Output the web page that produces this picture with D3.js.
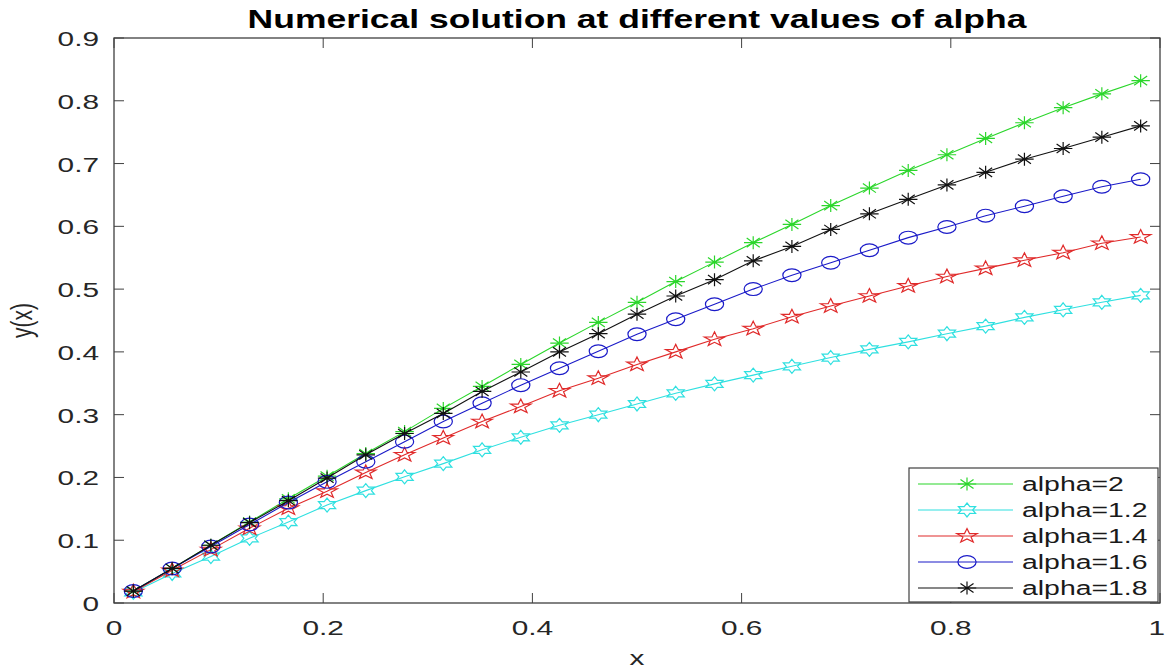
<!DOCTYPE html>
<html>
<head>
<meta charset="utf-8">
<script src="https://cdn.jsdelivr.net/npm/d3@7"></script>
<style>
  body { margin: 0; background: #fff; }
  svg { display: block; font-family: "Liberation Sans", Arial, Helvetica, sans-serif; }
</style>
</head>
<body>
<svg id="chart"></svg>
<script>
// grid points and solutions
var xs = [0.0185, 0.0556, 0.0926, 0.1296, 0.1667, 0.2037, 0.2407, 0.2778, 0.3148, 0.3519,
  0.3889, 0.4259, 0.4630, 0.5000, 0.5370, 0.5741, 0.6111, 0.6481, 0.6852, 0.7222,
  0.7593, 0.7963, 0.8333, 0.8704, 0.9074, 0.9444, 0.9815];

var y_a20 = [0.019, 0.055, 0.092, 0.129, 0.166, 0.202, 0.238, 0.273, 0.310, 0.345,
  0.380, 0.414, 0.447, 0.479, 0.512, 0.543, 0.574, 0.603, 0.633, 0.661,
  0.689, 0.714, 0.740, 0.765, 0.789, 0.811, 0.832];
var y_a12 = [0.017, 0.047, 0.074, 0.103, 0.129, 0.156, 0.179, 0.201, 0.222, 0.244,
  0.264, 0.283, 0.300, 0.317, 0.334, 0.349, 0.363, 0.377, 0.391, 0.404,
  0.416, 0.429, 0.441, 0.455, 0.467, 0.479, 0.490];
var y_a14 = [0.018, 0.052, 0.085, 0.119, 0.151, 0.178, 0.208, 0.236, 0.263, 0.289,
  0.313, 0.338, 0.358, 0.380, 0.400, 0.420, 0.437, 0.456, 0.473, 0.489,
  0.505, 0.520, 0.533, 0.546, 0.558, 0.573, 0.583];
var y_a16 = [0.019, 0.055, 0.090, 0.125, 0.160, 0.193, 0.225, 0.257, 0.289, 0.318,
  0.347, 0.374, 0.401, 0.428, 0.452, 0.476, 0.500, 0.522, 0.542, 0.562,
  0.582, 0.599, 0.617, 0.632, 0.648, 0.663, 0.675];
var y_a18 = [0.019, 0.055, 0.092, 0.128, 0.163, 0.199, 0.236, 0.270, 0.302, 0.337,
  0.368, 0.400, 0.429, 0.460, 0.489, 0.515, 0.545, 0.568, 0.595, 0.620,
  0.643, 0.666, 0.686, 0.707, 0.724, 0.742, 0.760];

var seriesNames = ["alpha=2", "alpha=1.2", "alpha=1.4", "alpha=1.6", "alpha=1.8"];
var xTicks = [0, 0.2, 0.4, 0.6, 0.8, 1];
var yTicks = [0, 0.1, 0.2, 0.3, 0.4, 0.5, 0.6, 0.7, 0.8, 0.9];

var series = [
  { name: seriesNames[0], y: y_a20, color: "#2bd62b", marker: "asterisk" },
  { name: seriesNames[1], y: y_a12, color: "#2fe0e0", marker: "hexagram" },
  { name: seriesNames[2], y: y_a14, color: "#e02a2a", marker: "pentagram" },
  { name: seriesNames[3], y: y_a16, color: "#1a1ac8", marker: "circle" },
  { name: seriesNames[4], y: y_a18, color: "#111111", marker: "asterisk" }
];

var W = 1166, H = 670;
// the figure is stretched horizontally, so text and markers get this x scale
var sx = 1.42;
var margin = { top: 38, right: 6, bottom: 67, left: 114 };

var svg = d3.select("#chart").attr("width", W).attr("height", H);

var x_scale = d3.scaleLinear().domain([0, 1]).range([margin.left, W - margin.right]);
var y_scale = d3.scaleLinear().domain([0, 0.9]).range([H - margin.bottom, margin.top]);

var x0 = x_scale.range()[0], x1 = x_scale.range()[1];
var y0 = y_scale.range()[0], y1 = y_scale.range()[1];
var axisColor = "#404040", tickLen = 10;

// marker shapes, local coords
function starPath(n, R, r) {
  var pts = [];
  for (var i = 0; i < 2 * n; i++) {
    var a = -Math.PI / 2 + i * Math.PI / n;
    var rad = i % 2 === 0 ? R : r;
    pts.push([rad * Math.cos(a), rad * Math.sin(a)]);
  }
  return "M" + pts.map(p => p[0].toFixed(2) + "," + p[1].toFixed(2)).join("L") + "Z";
}
function markerPath(type) {
  if (type === "asterisk") {
    var r = 6.5, d = r * 0.707;
    return `M${-r},0L${r},0M0,${-r}L0,${r}M${-d},${-d}L${d},${d}M${-d},${d}L${d},${-d}`;
  }
  if (type === "pentagram") return starPath(5, 7.5, 3.0);
  if (type === "hexagram") return starPath(6, 7, 4.0);
  return null;
}
function drawMarker(g, type, color, px, py) {
  var m = g.append("g").attr("transform", `translate(${px},${py}) scale(${sx},1)`);
  if (type === "circle") {
    m.append("circle").attr("r", 6.4).attr("fill", "none").attr("stroke", color)
      .attr("stroke-width", 1.2).attr("vector-effect", "non-scaling-stroke");
  } else {
    m.append("path").attr("d", markerPath(type)).attr("fill", "none").attr("stroke", color)
      .attr("stroke-width", 1.2).attr("vector-effect", "non-scaling-stroke");
  }
}
function addText(g, txt, px, py, opts) {
  return g.append("text")
    .attr("transform", `translate(${px},${py}) scale(${sx},1)` + (opts.rotate ? " rotate(-90)" : ""))
    .attr("text-anchor", opts.anchor || "middle")
    .style("font-size", opts.size + "px")
    .style("font-weight", opts.bold ? "bold" : "normal")
    .attr("fill", opts.color || "#262626")
    .text(txt);
}

// axes box with inner ticks on all four sides
var ax = svg.append("g").attr("class", "axes");
ax.append("rect").attr("x", x0).attr("y", y1).attr("width", x1 - x0).attr("height", y0 - y1)
  .attr("fill", "#fff").attr("stroke", axisColor).attr("stroke-width", 1.3);

xTicks.forEach(function (t, i) {
  var px = x_scale(t);
  ax.append("line").attr("x1", px).attr("x2", px).attr("y1", y0).attr("y2", y0 - tickLen).attr("stroke", axisColor);
  ax.append("line").attr("x1", px).attr("x2", px).attr("y1", y1).attr("y2", y1 + tickLen).attr("stroke", axisColor);
  // last label sits at the window edge, keep it inside
  var last = i === xTicks.length - 1;
  addText(ax, d3.format("~g")(t), last ? W - 1 : px, y0 + 32, { size: 21, anchor: last ? "end" : "middle" });
});
yTicks.forEach(function (t) {
  var py = y_scale(t);
  ax.append("line").attr("x1", x0).attr("x2", x0 + tickLen).attr("y1", py).attr("y2", py).attr("stroke", axisColor);
  ax.append("line").attr("x1", x1).attr("x2", x1 - tickLen).attr("y1", py).attr("y2", py).attr("stroke", axisColor);
  addText(ax, d3.format("~g")(t), x0 - 15, py + 8, { size: 21, anchor: "end" });
});

// lines + markers
var line = d3.line().x(d => x_scale(d[0])).y(d => y_scale(d[1]));
var plot = svg.append("g").attr("class", "plot");
series.forEach(function (s) {
  var pts = xs.map((xv, i) => [xv, s.y[i]]);
  plot.append("path").datum(pts).attr("d", line).attr("fill", "none")
    .attr("stroke", s.color).attr("stroke-width", 1.1);
  var mg = plot.append("g");
  pts.forEach(p => drawMarker(mg, s.marker, s.color, x_scale(p[0]), y_scale(p[1])));
});

// title and axis labels
addText(svg, "Numerical solution at different values of alpha", (x0 + x1) / 2, 28, { size: 25, bold: true, color: "#000" });
addText(svg, "x", (x0 + x1) / 2, 665, { size: 21 });
addText(svg, "y(x)", 32, (y0 + y1) / 2, { size: 21, rotate: true });

// legend, bottom-right corner
var lg = svg.append("g").attr("class", "legend");
var lgX = 909, lgY = 468, lgW = 249, lgH = 134, rowH = 26;
lg.append("rect").attr("x", lgX).attr("y", lgY).attr("width", lgW).attr("height", lgH)
  .attr("fill", "#fff").attr("stroke", axisColor).attr("stroke-width", 1.2);
series.forEach(function (s, i) {
  var cy = lgY + 16 + i * rowH;
  lg.append("line").attr("x1", lgX + 9).attr("x2", lgX + 104).attr("y1", cy).attr("y2", cy)
    .attr("stroke", s.color).attr("stroke-width", 1.1);
  drawMarker(lg, s.marker, s.color, lgX + 58, cy);
  addText(lg, s.name, lgX + 113, cy + 7, { size: 20, anchor: "start", color: "#1a1a1a" });
});
</script>
</body>
</html>
